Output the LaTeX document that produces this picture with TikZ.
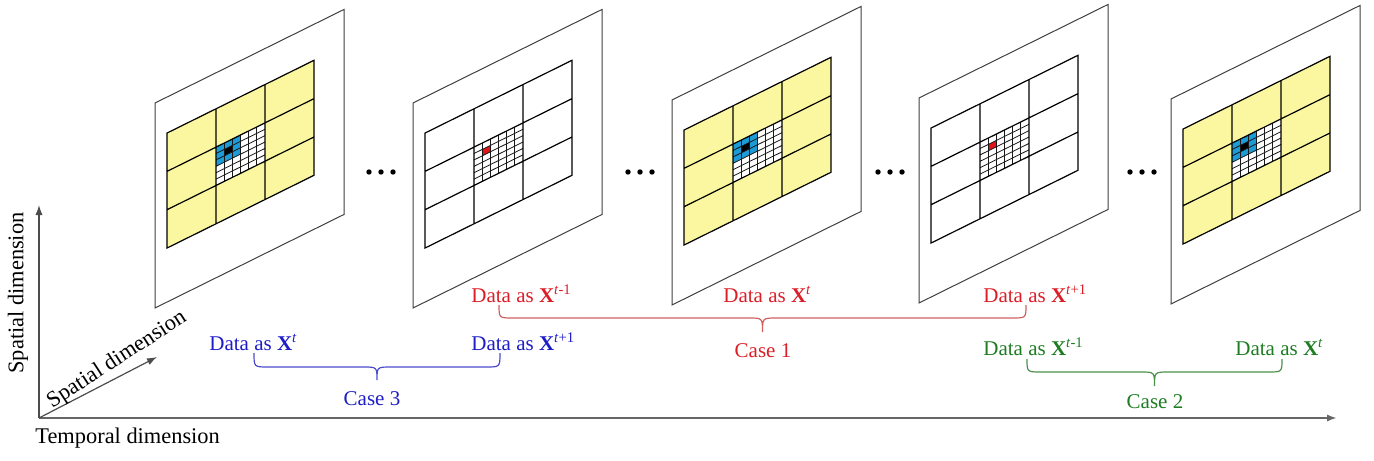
\documentclass[tikz,border=0pt]{standalone}
\usepackage{fontspec}
\setmainfont{Liberation Serif}
\usetikzlibrary{arrows.meta,calc}
\definecolor{pyellow}{RGB}{250,247,160}
\definecolor{pblue}{RGB}{28,155,215}
\definecolor{pred}{RGB}{225,20,25}
\definecolor{tred}{RGB}{220,30,40}
\definecolor{tblue}{RGB}{30,30,200}
\definecolor{tgreen}{RGB}{30,125,35}
\definecolor{bred}{RGB}{210,95,95}
\definecolor{bblue}{RGB}{75,75,205}
\definecolor{bgreen}{RGB}{75,145,75}
\tikzset{
  panelborder/.style={draw=black!75,line width=0.5pt},
  gridline/.style={draw=black,line width=0.6pt},
  fineline/.style={draw=black!90,line width=0.4pt},
  lbl/.style={font=\fontsize{10.5}{12}\selectfont,inner sep=0pt,anchor=base west},
  caselbl/.style={font=\fontsize{10.5}{12}\selectfont,inner sep=0pt,anchor=base},
  axl/.style={font=\fontsize{11.2}{13}\selectfont,inner sep=0pt},
  axisline/.style={line width=0.6pt,draw=black!70,-{Latex[length=5pt,width=3.6pt]}},
  bracepath/.style={line width=0.6pt},
}
\newcommand\drawpanel[4]{%
  \begin{scope}[shift={(#1,#2)},yslant=0.495]
    \draw[panelborder,fill=white] (0,0) rectangle (189,205);
    \fill[#3] (12,36) rectangle (159,151);
    \fill[white] (61,74.33) rectangle (110,112.67);
    #4
    \foreach \k in {1,...,5}{
      \draw[fineline] ({61+\k*8.1667},74.33) -- ({61+\k*8.1667},112.67);
      \draw[fineline] (61,{74.33+\k*6.389}) -- (110,{74.33+\k*6.389});
    }
    \draw[gridline] (12,36) rectangle (159,151)
      (61,36) -- (61,151) (110,36) -- (110,151)
      (12,74.33) -- (159,74.33) (12,112.67) -- (159,112.67);
  \end{scope}}
\newcommand\curbrace[6]{%
  \pgfmathsetmacro\xm{(#2+#3)/2}
  \draw[bracepath,#1] (#2,#4) .. controls (#2,#5) .. ({#2+14},#5) -- ({\xm-14},#5)
    .. controls (\xm,#5) .. (\xm,#6) .. controls (\xm,#5) .. ({\xm+14},#5)
    -- ({#3-14},#5) .. controls (#3,#5) .. (#3,#4);}
\begin{document}
\begin{tikzpicture}[x=0.5pt,y=-0.5pt]
\useasboundingbox (0,0) rectangle (1374,460);
% panels
\drawpanel{155}{103}{pyellow}{\fill[pblue] (61,74.33) rectangle (85.5,93.5);
  \fill[black] (69.17,80.72) rectangle (77.33,87.11);}
\drawpanel{413}{103}{white}{\fill[pred] (69.17,80.72) rectangle (77.33,87.11);}
\drawpanel{672}{100}{pyellow}{\fill[pblue] (61,74.33) rectangle (85.5,93.5);
  \fill[black] (69.17,80.72) rectangle (77.33,87.11);}
\drawpanel{919}{98}{white}{\fill[pred] (69.17,80.72) rectangle (77.33,87.11);}
\drawpanel{1171}{99}{pyellow}{\fill[pblue] (61,74.33) rectangle (85.5,93.5);
  \fill[black] (69.17,80.72) rectangle (77.33,87.11);}
% dots
\foreach \cx in {381,640,890,1142}{
  \foreach \d in {-12,0,12}{\fill ({\cx+\d},172) circle[radius=1.35pt];}}
% axes
\coordinate (O) at (39,418);
\coordinate (vt) at (39,205);
\coordinate (ht) at (1337,418);
\coordinate (dt) at (157,357);
\draw[axisline] (O) -- (vt);
\draw[axisline,line width=1pt,draw=black!60] (O) -- (ht);
\draw[axisline] (O) -- (dt);
\node[axl,rotate=90] (sv) at (18,293) {Spatial dimension};
\node[axl,anchor=west] (td) at (35,438) {Temporal dimension};
\node[axl,rotate=33] (sd) at (117,360) {Spatial dimension};
% labels
\node[lbl,tred] (r1) at (471,302) {Data as \textbf{X}\textsuperscript{\textit{t}-1}};
\node[lbl,tred] (r2) at (723,302) {Data as \textbf{X}\textsuperscript{\textit{t}}};
\node[lbl,tred] (r3) at (983,302) {Data as \textbf{X}\textsuperscript{\textit{t}+1}};
\node[lbl,tblue] (b1) at (209,350) {Data as \textbf{X}\textsuperscript{\textit{t}}};
\node[lbl,tblue] (b2) at (471,350) {Data as \textbf{X}\textsuperscript{\textit{t}+1}};
\node[lbl,tgreen] (g1) at (983,355) {Data as \textbf{X}\textsuperscript{\textit{t}-1}};
\node[lbl,tgreen] (g2) at (1235,355) {Data as \textbf{X}\textsuperscript{\textit{t}}};
\node[caselbl,tred] (c1) at (763,357) {Case 1};
\node[caselbl,tblue] (c3) at (372,405) {Case 3};
\node[caselbl,tgreen] (c2) at (1155,408) {Case 2};
% braces
\curbrace{bred}{499}{1026}{305}{318}{332}
\curbrace{bblue}{254}{500}{353}{367}{380}
\curbrace{bgreen}{1027}{1282}{359}{372}{386}
\end{tikzpicture}
\end{document}
